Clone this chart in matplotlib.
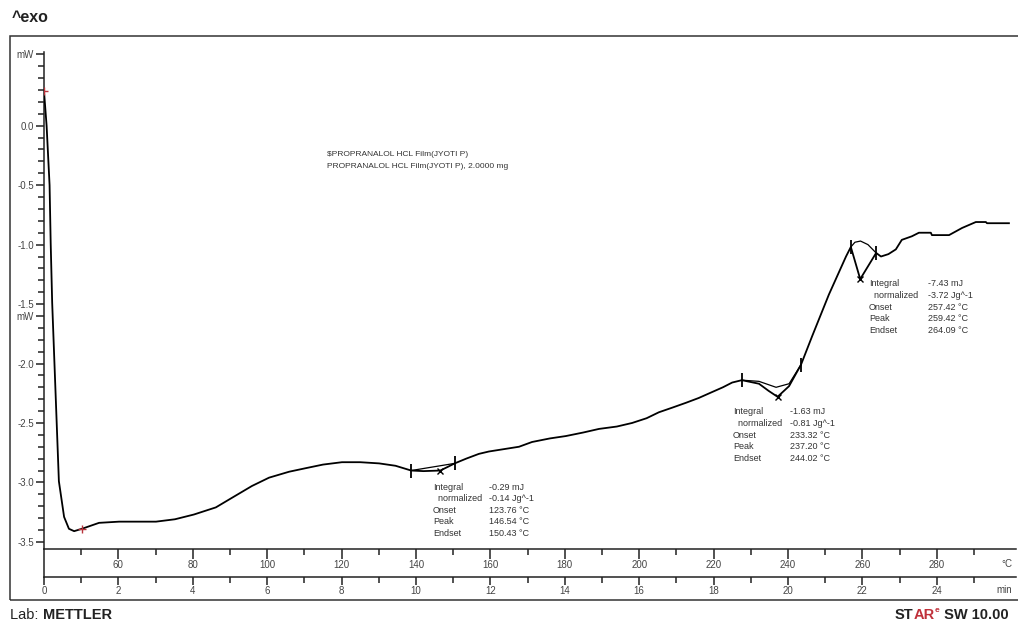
import numpy as np
import matplotlib.pyplot as plt
from matplotlib.ticker import FixedLocator, FixedFormatter, NullFormatter
from matplotlib.lines import Line2D
from matplotlib.patches import Rectangle

W, H = 1018, 624

# DSC trace: temperature (°C) and heat flow (mW), ^exo up
temp_c = [40.0, 40.7, 41.5, 41.8, 42.2, 42.8, 43.4, 44.0, 45.4, 46.7, 48.1, 50.2,
          54.8, 60.2, 70.1, 75.2, 80.3, 86.2, 90.5, 95.9, 100.5, 105.9, 110.4, 115.0,
          120.1, 125.0, 130.1, 134.5, 138.7, 142.0, 146.54, 148.5, 150.4, 153.5,
          156.9, 159.6, 167.7, 171.2, 176.0, 180.3, 185.0, 189.2, 194.0, 198.1,
          202.0, 205.3, 209.0, 212.6, 216.0, 219.6, 222.5, 225.0, 227.6,
          232.2, 234.8, 237.2, 240.3, 243.5, 246.5, 251.0, 255.6, 256.9, 259.42,
          263.7, 265.0, 267.0, 269.0, 270.6, 273.3, 275.2, 278.4, 278.7, 283.3,
          286.8, 290.5, 293.2, 293.5, 299.4]
heat_flow = [0.29, 0.00, -0.50, -0.99, -1.49, -1.99, -2.49, -2.99, -3.29, -3.39, -3.41, -3.39,
             -3.34, -3.33, -3.33, -3.31, -3.27, -3.21, -3.13, -3.03, -2.96, -2.91, -2.88, -2.85,
             -2.83, -2.83, -2.84, -2.86, -2.90, -2.905, -2.90, -2.87, -2.84, -2.80,
             -2.76, -2.74, -2.70, -2.66, -2.63, -2.61, -2.58, -2.55, -2.53, -2.50,
             -2.46, -2.41, -2.37, -2.33, -2.29, -2.24, -2.20, -2.16, -2.14,
             -2.17, -2.23, -2.28, -2.19, -2.01, -1.77, -1.42, -1.10, -1.02, -1.29,
             -1.07, -1.10, -1.08, -1.04, -0.96, -0.93, -0.90, -0.90, -0.92, -0.92,
             -0.86, -0.81, -0.81, -0.82, -0.82]

# start / first-point markers (red)
red_marks_t = [40.0, 50.2]

# evaluated peaks
peak_temps = [146.54, 237.20, 259.42]
limit_temps = [(138.7, 150.4), (227.6, 243.5), (256.9, 263.7)]
base1_t = [138.7, 150.4]
base1_v = [-2.90, -2.84]
base2_t = [227.6, 232.2, 236.8, 240.3, 243.5]
base2_v = [-2.14, -2.15, -2.20, -2.17, -2.01]
base3_t = [256.9, 258.0, 259.5, 261.5, 263.7]
base3_v = [-1.02, -0.98, -0.97, -1.00, -1.07]

integrals = ["-0.29 mJ", "-1.63 mJ", "-7.43 mJ"]
normalized = ["-0.14 Jg^-1", "-0.81 Jg^-1", "-3.72 Jg^-1"]
onsets = ["123.76 °C", "233.32 °C", "257.42 °C"]
peaks = ["146.54 °C", "237.20 °C", "259.42 °C"]
endsets = ["150.43 °C", "244.02 °C", "264.09 °C"]

y_major = [-3.5, -3.0, -2.5, -2.0, -1.5, -1.0, -0.5, 0.0, 0.6, -1.6]
y_major_lbl = ["-3.5", "-3.0", "-2.5", "-2.0", "-1.5", "-1.0", "-0.5", "0.0", "mW", "mW"]
temp_major = list(range(60, 281, 20))
temp_minor = list(range(50, 291, 20))
time_major = list(range(0, 25, 2))
time_minor = list(range(1, 26, 2))

FONT = "Liberation Sans"
GREY = "#444444"
AXC = "#222222"


def fpx(x, y):
    return x / W, 1 - y / H


fig = plt.figure(figsize=(W / 100, H / 100), dpi=100)
ax = fig.add_axes([44 / W, 1 - 549 / H, (1016 - 44) / W, (549 - 52) / H])
ax.set_xlim(40, 301.3)
ax.set_ylim(-3.56, 0.62)
for s in ("top", "right"):
    ax.spines[s].set_visible(False)
for s in ("left", "bottom"):
    ax.spines[s].set_linewidth(1.1)
    ax.spines[s].set_color(AXC)

ax.plot(temp_c, heat_flow, color="black", lw=1.3, zorder=3)
ax.plot(base1_t, base1_v, color="black", lw=0.9)
ax.plot(base2_t, base2_v, color="black", lw=0.9)
ax.plot(base3_t, base3_v, color="black", lw=0.9)

for lo, hi in limit_temps:
    ax.plot([lo, hi], np.interp([lo, hi], temp_c, heat_flow), ls="none",
            marker="|", ms=10, mew=1.3, color="black", zorder=4)
ax.plot(peak_temps, np.interp(peak_temps, temp_c, heat_flow), ls="none",
        marker="x", ms=5, mew=1.0, color="black", zorder=4)
ax.plot(red_marks_t, np.interp(red_marks_t, temp_c, heat_flow), ls="none",
        marker="+", ms=6, mew=1.0, color="#b8343c", zorder=5)

# y axis: mW, major every 0.5, minor every 0.1
ax.yaxis.set_major_locator(FixedLocator(y_major))
ax.yaxis.set_major_formatter(FixedFormatter(y_major_lbl))
ax.yaxis.set_minor_locator(FixedLocator([round(v, 1) for v in np.arange(-3.5, 0.65, 0.1)]))
ax.tick_params(axis="y", which="major", length=6, width=1.1, pad=1,
               labelsize=7, labelcolor=GREY, color=AXC)
ax.tick_params(axis="y", which="minor", length=4, width=1.1, color=AXC)

# temperature axis
ax.xaxis.set_major_locator(FixedLocator(temp_major))
ax.xaxis.set_minor_locator(FixedLocator(temp_minor))
ax.xaxis.set_minor_formatter(NullFormatter())
ax.tick_params(axis="x", which="major", length=7, width=1.1, pad=1,
               labelsize=7, labelcolor=GREY, color=AXC)
ax.tick_params(axis="x", which="minor", length=4, width=1.1, color=AXC)

# time axis (10 K/min from 40 °C)
sec = ax.secondary_xaxis((549 - 577) / (549 - 52),
                         functions=(lambda T: (T - 40) / 10, lambda t: t * 10 + 40))
sec.xaxis.set_major_locator(FixedLocator(time_major))
sec.xaxis.set_minor_locator(FixedLocator(time_minor))
sec.xaxis.set_minor_formatter(NullFormatter())
sec.tick_params(axis="x", which="major", length=6, width=1.1, pad=0.5,
                labelsize=7, labelcolor=GREY, color=AXC)
sec.tick_params(axis="x", which="minor", length=4, width=1.1, color=AXC)
sec.spines["bottom"].set_linewidth(1.1)
sec.spines["bottom"].set_color(AXC)

for lbl in ax.get_xticklabels() + ax.get_yticklabels() + sec.get_xticklabels():
    lbl.set_family(FONT)

fig.text(*fpx(1012, 564), "°C", ha="right", va="center", fontsize=7,
         color=GREY, family=FONT)
fig.text(*fpx(1012, 590), "min", ha="right", va="center", fontsize=7,
         color=GREY, family=FONT)

# outer frame and connector between the two x axes
fig.add_artist(Rectangle(fpx(10, 600), 1012 / W, 564 / H, transform=fig.transFigure,
                         fill=False, lw=1.1, ec="#333333"))
fig.add_artist(Line2D([44 / W, 44 / W], [1 - 549 / H, 1 - 577 / H],
                      transform=fig.transFigure, lw=1.1, color=AXC))

# sample description
fig.text(*fpx(327, 155), "$PROPRANALOL HCL Film(JYOTI P)", fontsize=6, color="#333333",
         family=FONT, va="center")
fig.text(*fpx(327, 167), "PROPRANALOL HCL Film(JYOTI P), 2.0000 mg", fontsize=6,
         color="#333333", family=FONT, va="center")

# evaluation result blocks: (label x, value x, first row y)
blocks = [(433, 489, 487), (733, 790, 412), (869, 928, 284)]
row_dy = 11.6
for i, (lx, vx, y0) in enumerate(blocks):
    names = ["Integral", "  normalized", "Onset", "Peak", "Endset"]
    vals = [integrals[i], normalized[i], onsets[i], peaks[i], endsets[i]]
    for k in range(5):
        y = y0 + k * row_dy
        fig.text(*fpx(lx, y), names[k], fontsize=6.5, color="#333333",
                 family=FONT, va="center")
        fig.text(*fpx(vx, y), vals[k], fontsize=6.5, color="#333333",
                 family=FONT, va="center")

# header / footer
fig.text(*fpx(12, 18), "^exo", fontsize=11.5, weight="bold", family=FONT,
         va="center", color=AXC)

renderer = fig.canvas.get_renderer()


def run_text(x0, y, pieces):
    x = x0
    for s, kw in pieces:
        t = fig.text(*fpx(x, y), s, va="baseline", family=FONT, **kw)
        bb = t.get_window_extent(renderer=renderer)
        x += bb.width
    return x


run_text(10, 619, [("Lab: ", dict(fontsize=10.5, color=AXC)),
                   ("METTLER", dict(fontsize=10.5, weight="bold", color=AXC))])

red = "#c0303a"
x_end = run_text(895, 619, [("ST", dict(fontsize=10.5, weight="bold", color=AXC)),
                            ("AR", dict(fontsize=10.5, weight="bold", color=red))])
t = fig.text(*fpx(x_end, 612), "e", fontsize=6, weight="bold", family=FONT,
             color=red, va="baseline")
x_end += t.get_window_extent(renderer=renderer).width
run_text(x_end, 619, [(" SW 10.00", dict(fontsize=10.5, weight="bold", color=AXC))])

fig.savefig("out.png", dpi=100)
